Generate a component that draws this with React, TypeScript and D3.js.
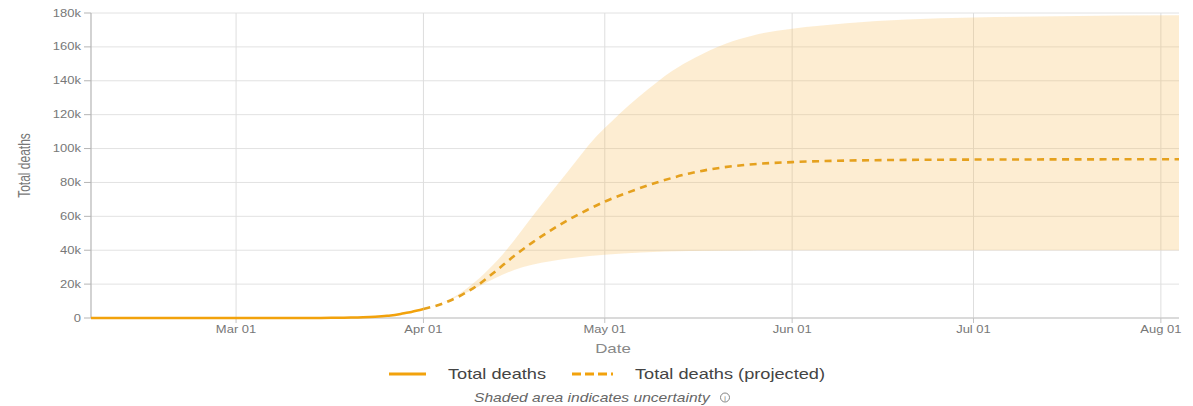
import React from "react";
import * as d3 from "d3";

// ---- data ----
const actualDates = [
  "2020-02-06", "2020-02-15", "2020-02-29", "2020-03-05", "2020-03-10", "2020-03-15",
  "2020-03-18", "2020-03-20", "2020-03-22", "2020-03-24", "2020-03-26", "2020-03-28",
  "2020-03-29", "2020-03-30", "2020-03-31", "2020-04-01",
];
const actualDeaths = [0, 0, 1, 11, 28, 60, 150, 250, 430, 750, 1300, 2200, 3000, 3600, 4400, 5300];

const projDates = [
  "2020-04-01", "2020-04-04", "2020-04-07", "2020-04-10", "2020-04-13", "2020-04-16",
  "2020-04-19", "2020-04-22", "2020-04-25", "2020-04-28", "2020-05-01", "2020-05-05",
  "2020-05-10", "2020-05-15", "2020-05-20", "2020-05-25", "2020-06-01", "2020-06-10",
  "2020-06-20", "2020-07-01", "2020-07-15", "2020-08-04",
];
const projDeaths = [
  5300, 8300, 13000, 19400, 27800, 36600, 44500, 51600, 58000, 63600, 68700, 74300,
  80400, 85300, 88600, 90600, 92000, 92900, 93300, 93500, 93600, 93700,
];

const upperDates = [
  "2020-04-01", "2020-04-05", "2020-04-08", "2020-04-11", "2020-04-14", "2020-04-17",
  "2020-04-20", "2020-04-23", "2020-04-26", "2020-04-29", "2020-05-02", "2020-05-05",
  "2020-05-08", "2020-05-12", "2020-05-16", "2020-05-21", "2020-05-26", "2020-06-01",
  "2020-06-10", "2020-06-20", "2020-07-01", "2020-07-15", "2020-08-04",
];
const upperDeaths = [
  5300, 10500, 17000, 26000, 37000, 50500, 64500, 78000, 91500, 104800, 115500, 125500,
  134500, 145500, 153800, 161900, 167200, 170700, 174000, 176200, 177400, 178100, 178600,
];

const lowerDates = [
  "2020-04-01", "2020-04-04", "2020-04-07", "2020-04-10", "2020-04-13", "2020-04-16",
  "2020-04-19", "2020-04-22", "2020-04-26", "2020-05-01", "2020-05-07", "2020-05-15",
  "2020-05-25", "2020-06-10", "2020-08-04",
];
const lowerDeaths = [
  5300, 8800, 13200, 18300, 23800, 28300, 31400, 33500, 35500, 37300, 38600, 39500,
  39900, 40000, 40000,
];

const xDomain = ["2020-02-06", "2020-08-04"];
const yTicks = [0, 20000, 40000, 60000, 80000, 100000, 120000, 140000, 160000, 180000];
const monthTicks = ["2020-03-01", "2020-04-01", "2020-05-01", "2020-06-01", "2020-07-01", "2020-08-01"];

const legendLabels = ["Total deaths", "Total deaths (projected)"];
const footnote = "Shaded area indicates uncertainty";

// ---- layout / style ----
const W = 1193;
const H = 406;
const L = 91;
const R = 1179;
const T = 13;
const B = 318;
const SX = 1.3;
const FONT = "'Liberation Sans', Arial, sans-serif";
const ORANGE = "#F2A20C";
const DASH = "#E5A11E";

const parse = d3.utcParse("%Y-%m-%d");

type P = { x: Date; y: number };

export default function App() {
  const x = d3.scaleUtc().domain(xDomain.map((d) => parse(d)!)).range([L, R]);
  const y = d3.scaleLinear().domain([0, 180000]).range([B, T]);

  const actual: P[] = actualDates.map((d, i) => ({ x: parse(d)!, y: actualDeaths[i] }));
  const proj: P[] = projDates.map((d, i) => ({ x: parse(d)!, y: projDeaths[i] }));
  const up: P[] = upperDates.map((d, i) => ({ x: parse(d)!, y: upperDeaths[i] }));
  const lo: P[] = lowerDates.map((d, i) => ({ x: parse(d)!, y: lowerDeaths[i] }));

  const line = d3
    .line<P>()
    .x((d) => x(d.x))
    .y((d) => y(d.y))
    .curve(d3.curveMonotoneX);

  const upPath = line(up)!;
  const loRev = [...lo].reverse();
  const loPath = d3
    .line<P>()
    .x((d) => x(d.x))
    .y((d) => y(d.y))
    .curve(d3.curveMonotoneX)(loRev)!;
  const bandPath = upPath + "L" + loPath.slice(1) + "Z";

  const fmtMonth = d3.utcFormat("%b %d");
  const fmtK = (v: number) => (v === 0 ? "0" : `${v / 1000}k`);

  const T2 = (tx: number, ty: number) => `translate(${tx},${ty}) scale(${SX},1)`;

  return (
    <svg
      width={W}
      height={H}
      style={{ position: "absolute", left: 0, top: 0, background: "#fff" }}
      fontFamily={FONT}
    >
      {/* grid */}
      {yTicks.map((v) => (
        <line key={"gy" + v} x1={L} x2={R} y1={y(v)} y2={y(v)} stroke="#e2e2e2" strokeWidth={1} />
      ))}
      {monthTicks.map((m) => (
        <line key={"gx" + m} x1={x(parse(m)!)} x2={x(parse(m)!)} y1={T} y2={B} stroke="#dedede" strokeWidth={1} />
      ))}

      {/* band */}
      <path d={bandPath} fill="rgba(248,190,90,0.27)" stroke="none" />

      {/* axes */}
      <line x1={L} x2={L} y1={T} y2={B} stroke="#b5b5b5" strokeWidth={1.2} />
      <line x1={L} x2={R} y1={B} y2={B} stroke="#c4c4c4" strokeWidth={1.2} />
      {yTicks.map((v) => (
        <g key={"yt" + v}>
          <line x1={L - 7} x2={L} y1={y(v)} y2={y(v)} stroke="#b5b5b5" />
          <text transform={T2(L - 10, y(v) + 3.5)} textAnchor="end" fontSize={10} fill="#777">
            {fmtK(v)}
          </text>
        </g>
      ))}
      {monthTicks.map((m) => (
        <g key={"xt" + m}>
          <line x1={x(parse(m)!)} x2={x(parse(m)!)} y1={B} y2={B + 5} stroke="#c4c4c4" />
          <text transform={T2(x(parse(m)!), 333)} textAnchor="middle" fontSize={10} fill="#777">
            {fmtMonth(parse(m)!)}
          </text>
        </g>
      ))}

      {/* axis titles */}
      <text
        transform={`translate(30,${(T + B) / 2}) rotate(-90) scale(1,${SX})`}
        textAnchor="middle"
        fontSize={12}
        fill="#777"
      >
        Total deaths
      </text>
      <text transform={T2(613, 353)} textAnchor="middle" fontSize={13} fill="#888">
        Date
      </text>

      {/* lines */}
      <path d={line(actual)!} fill="none" stroke={ORANGE} strokeWidth={2.5} />
      <path d={line(proj)!} fill="none" stroke={DASH} strokeWidth={2.6} strokeDasharray="7,5.5" />

      {/* legend */}
      <line x1={389} x2={426} y1={374} y2={374} stroke={ORANGE} strokeWidth={3} />
      <text transform={T2(448, 379)} fontSize={14} fill="#444">
        {legendLabels[0]}
      </text>
      <line x1={572} x2={613} y1={374} y2={374} stroke={ORANGE} strokeWidth={3} strokeDasharray="9,4" />
      <text transform={T2(635, 379)} fontSize={14} fill="#444">
        {legendLabels[1]}
      </text>

      {/* footnote */}
      <text transform={T2(474, 401.5)} fontSize={12} fontStyle="italic" fill="#666">
        {footnote}
      </text>
      <circle cx={725} cy={397.5} r={4.5} fill="none" stroke="#777" strokeWidth={0.9} />
      <text x={725} y={400.5} textAnchor="middle" fontSize={7} fill="#777">
        i
      </text>
    </svg>
  );
}
